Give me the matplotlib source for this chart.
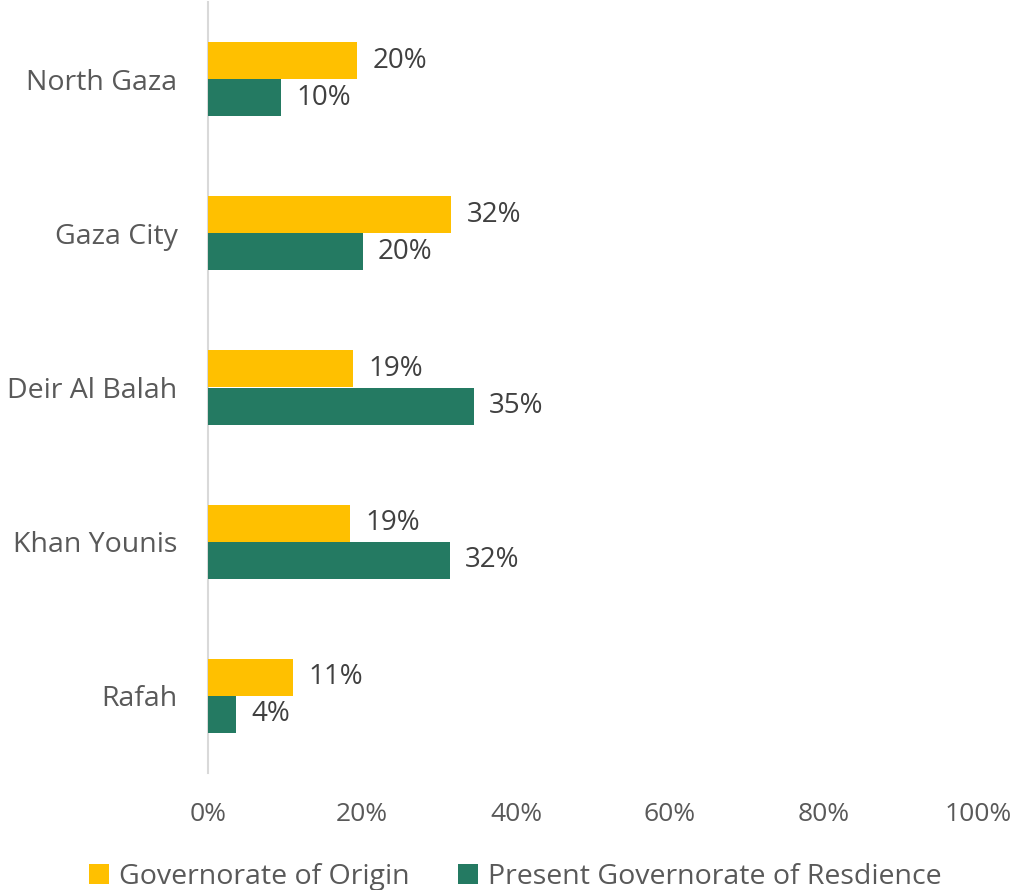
import matplotlib.pyplot as plt
import numpy as np
from matplotlib.ticker import FuncFormatter

CATEGORIES = ["North Gaza", "Gaza City", "Deir Al Balah", "Khan Younis", "Rafah"]
ORIGIN = [19.4, 31.6, 18.8, 18.4, 11.0]
RESIDENCE = [9.5, 20.1, 34.5, 31.4, 3.6]
ORIGIN_LABELS = ["20%", "32%", "19%", "19%", "11%"]
RESIDENCE_LABELS = ["10%", "20%", "35%", "32%", "4%"]
SERIES_NAMES = ["Governorate of Origin", "Present Governorate of Resdience"]

YELLOW = "#FFC000"
GREEN = "#247A62"
LABEL_INK = "#404040"
AXIS_INK = "#595959"

plt.rcParams["font.family"] = ["Open Sans", "DejaVu Sans"]

fig = plt.figure(figsize=(10.11, 8.9), dpi=100)
ax = fig.add_axes([208 / 1011, 1 - 773 / 890, 770 / 1011, 771 / 890])

y = np.arange(len(CATEGORIES))
h = 0.24
b1 = ax.barh(y - h / 2, ORIGIN, height=h, color=YELLOW, label=SERIES_NAMES[0], zorder=3)
b2 = ax.barh(y + h / 2, RESIDENCE, height=h, color=GREEN, label=SERIES_NAMES[1], zorder=3)

for bars, labels in ((b1, ORIGIN_LABELS), (b2, RESIDENCE_LABELS)):
    for bar, lab in zip(bars, labels):
        ax.annotate(lab, (bar.get_width(), bar.get_y() + bar.get_height() / 2),
                    xytext=(11, 0), textcoords="offset points",
                    ha="left", va="center", fontsize=20, color=LABEL_INK)

ax.set_xlim(0, 100)
ax.set_ylim(len(CATEGORIES) - 0.5, -0.5)
ax.set_xticks(np.arange(0, 101, 20))
ax.xaxis.set_major_formatter(FuncFormatter(lambda v, _: f"{v:.0f}%"))
ax.set_yticks(y, CATEGORIES)
ax.tick_params(axis="x", length=0, pad=21, labelsize=19, labelcolor=AXIS_INK)
ax.tick_params(axis="y", length=0, pad=22, labelsize=20.5, labelcolor=AXIS_INK)

for s in ["top", "right", "bottom"]:
    ax.spines[s].set_visible(False)
ax.spines["left"].set_color("#D9D9D9")
ax.spines["left"].set_linewidth(1.5)

fig.legend(loc="lower center", bbox_to_anchor=(0.51, -0.03), ncol=2, frameon=False,
           fontsize=20.5, labelcolor=AXIS_INK, handlelength=0.7, handleheight=0.7,
           handletextpad=0.35, columnspacing=1.7)

fig.savefig("out.png", dpi=100, facecolor="white")
